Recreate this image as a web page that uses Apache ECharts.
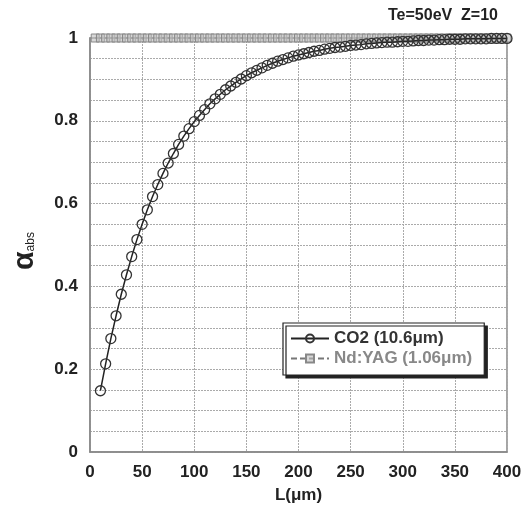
<!DOCTYPE html>
<html><head><meta charset="utf-8">
<script src="https://cdn.jsdelivr.net/npm/echarts@6/dist/echarts.min.js"></script>
<style>html,body{margin:0;padding:0;background:#fff}#c{width:525px;height:511px}</style>
</head><body><div id="c"></div>
<script>
// Data
const L = [10,15,20,25,30,35,40,45,50,55,60,65,70,75,80,85,90,95,100,105,110,115,120,125,130,135,140,145,150,155,160,165,170,175,180,185,190,195,200,205,210,215,220,225,230,235,240,245,250,255,260,265,270,275,280,285,290,295,300,305,310,315,320,325,330,335,340,345,350,355,360,365,370,375,380,385,390,395,400];
const co2 = [0.148,0.213,0.274,0.329,0.381,0.428,0.472,0.513,0.550,0.585,0.617,0.646,0.673,0.698,0.721,0.743,0.763,0.781,0.798,0.813,0.827,0.841,0.853,0.864,0.875,0.884,0.893,0.901,0.909,0.916,0.922,0.928,0.934,0.939,0.944,0.948,0.952,0.956,0.959,0.962,0.965,0.968,0.970,0.973,0.975,0.977,0.978,0.980,0.982,0.983,0.984,0.986,0.987,0.988,0.989,0.990,0.990,0.991,0.992,0.992,0.993,0.994,0.994,0.995,0.995,0.996,0.996,0.997,0.997,0.997,0.998,0.998,0.998,0.998,0.998,0.999,0.999,0.999,0.999];
const Lnd = [5,10,15,20,25,30,35,40,45,50,55,60,65,70,75,80,85,90,95,100,105,110,115,120,125,130,135,140,145,150,155,160,165,170,175,180,185,190,195,200,205,210,215,220,225,230,235,240,245,250,255,260,265,270,275,280,285,290,295,300,305,310,315,320,325,330,335,340,345,350,355,360,365,370,375,380,385,390,395,400];
const ndyag = [1,1,1,1,1,1,1,1,1,1,1,1,1,1,1,1,1,1,1,1,1,1,1,1,1,1,1,1,1,1,1,1,1,1,1,1,1,1,1,1,1,1,1,1,1,1,1,1,1,1,1,1,1,1,1,1,1,1,1,1,1,1,1,1,1,1,1,1,1,1,1,1,1,1,1,1,1,1,1,1];
const seriesNames = ['CO2 (10.6μm)', 'Nd:YAG (1.06μm)'];
const titleText = 'Te=50eV  Z=10';

const chart = echarts.init(document.getElementById('c'));
const font = 'Liberation Sans, Arial, sans-serif';
const gridLine = {show:true, lineStyle:{color:'#aaa', type:[2,1], width:1}};
chart.setOption({
  animation:false,
  title:{text:titleText, right:22, top:3, textStyle:{fontFamily:font, fontSize:16, fontWeight:'bold', color:'#222'}},
  grid:{left:90, right:18, top:38, bottom:59, containLabel:false, outerBoundsMode:'none', show:true, borderColor:'#888', borderWidth:1.5, backgroundColor:'transparent'},
  legend:{
    orient:'vertical', left:283, top:323, padding:[7,12,8,7], itemGap:3,
    backgroundColor:'#fff', borderColor:'#222', borderWidth:1.2,
    shadowColor:'#222', shadowOffsetX:3, shadowOffsetY:3, shadowBlur:0,
    itemWidth:38, itemHeight:10,
    textStyle:{fontFamily:font, fontSize:17, fontWeight:'bold', color:'#333'},
    data:[{name:seriesNames[0]}, {name:seriesNames[1], textStyle:{color:'#888'}}]
  },
  xAxis:{
    type:'value', min:0, max:400, interval:50,
    name:'L(μm)', nameLocation:'middle', nameGap:35,
    nameTextStyle:{fontFamily:font, fontSize:17, fontWeight:'bold', color:'#222'},
    axisLine:{show:true, lineStyle:{color:'#888', width:1.5}},
    axisTick:{show:false},
    axisLabel:{fontFamily:font, fontSize:17, fontWeight:'bold', color:'#222', margin:12},
    splitLine:gridLine
  },
  yAxis:{
    type:'value', min:0, max:1, interval:0.2,
    name:'{a|α}{s|abs}', nameLocation:'middle', nameGap:50, nameRotate:90,
    nameTextStyle:{padding:[0,0,0,-12], rich:{a:{fontFamily:font, fontSize:30, fontWeight:'bold', color:'#222'}, s:{fontFamily:font, fontSize:12, color:'#222', padding:[12,0,0,0]}}},
    axisLine:{show:true, lineStyle:{color:'#888', width:1.5}},
    axisTick:{show:false},
    minorTick:{show:false, splitNumber:4},
    minorSplitLine:gridLine,
    axisLabel:{fontFamily:font, fontSize:17, fontWeight:'bold', color:'#222', margin:12},
    splitLine:gridLine
  },
  series:[
    {
      name:seriesNames[1], type:'line', clip:false, z:2,
      data:Lnd.map((x,i)=>[x, ndyag[i]]),
      symbol:'rect', symbolSize:8,
      lineStyle:{color:'#777', width:1.5, type:[6,3]},
      itemStyle:{color:'rgba(190,190,190,0.6)', borderColor:'#888', borderWidth:1}
    },
    {
      name:seriesNames[0], type:'line', clip:false, z:3,
      data:L.map((x,i)=>[x, co2[i]]),
      symbol:'circle', symbolSize:10,
      lineStyle:{color:'#222', width:1.5},
      itemStyle:{color:'rgba(255,255,255,0)', borderColor:'#333', borderWidth:1.3}
    }
  ]
});
</script></body></html>
